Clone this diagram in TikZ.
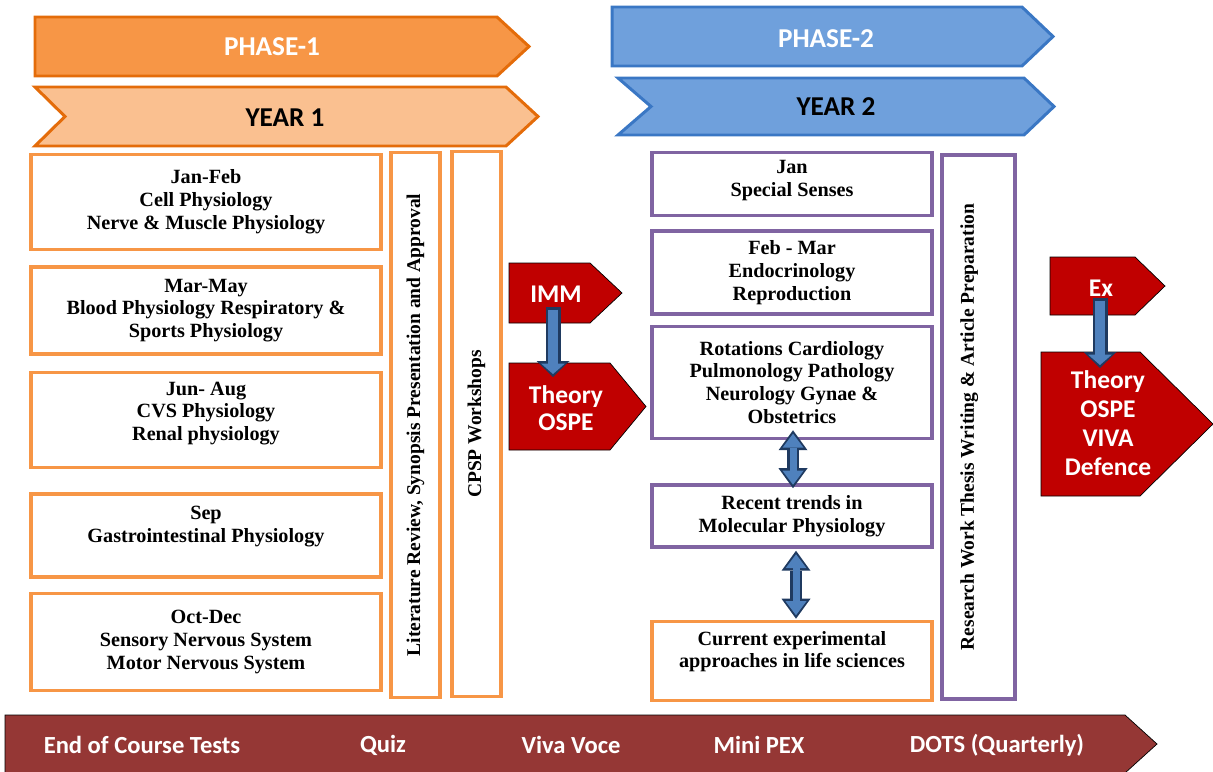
\documentclass[tikz,border=0pt]{standalone}
\usepackage{fontspec}
\setmainfont{Liberation Serif}
\newfontfamily\calibri{Carlito}
\usetikzlibrary{positioning,calc,arrows.meta}

\definecolor{phaseone}{HTML}{F79646}
\definecolor{phaseline}{HTML}{E46C0A}
\definecolor{yearone}{HTML}{FAC090}
\definecolor{phasetwo}{HTML}{6FA0DC}
\definecolor{phasetwoline}{HTML}{3A77C4}
\definecolor{boxorange}{HTML}{F79646}
\definecolor{boxpurple}{HTML}{8064A2}
\definecolor{examred}{HTML}{C00000}
\definecolor{barred}{HTML}{953735}
\definecolor{arrblue}{HTML}{4F81BD}
\definecolor{arrline}{HTML}{1F3A60}

% style, left, top, right, bottom, head length, notch depth
\newcommand\banner[7]{%
  \draw[#1] (#2,#3) -- ({#4-#6},#3) -- (#4,{(#3+#5)/2}) -- ({#4-#6},#5)
    -- (#2,#5) -- ({#2+#7},{(#3+#5)/2}) -- cycle;}

\tikzset{
  bannerline/.style={line width=1.7pt, line join=miter},
  headtext/.style={font=\calibri\bfseries\fontsize{15.5}{18}\selectfont},
  month/.style={draw=boxorange, line width=2pt, align=center, inner sep=2pt,
    minimum width=7cm, font=\bfseries\fontsize{11.5}{13}\selectfont},
  topic/.style={month, draw=boxpurple, minimum width=5.6cm},
  longbox/.style={month, rotate=90, minimum width=10.9cm, minimum height=0.98cm,
    font=\bfseries\fontsize{11.1}{13}\selectfont},
  examtext/.style={text=white, align=center,
    font=\calibri\bfseries\fontsize{14.5}{15.5}\selectfont},
  bartext/.style={text=white, font=\calibri\bfseries\fontsize{14}{16}\selectfont},
  fatout/.style={line width=0.3cm, draw=arrline,
    -{Triangle[length=0.32cm,width=0.66cm,line width=0pt]}},
  fatin/.style={line width=0.19cm, draw=arrblue, shorten <=0.05cm, shorten >=0.06cm,
    -{Triangle[length=0.21cm,width=0.48cm,line width=0pt]}},
  dblout/.style={line width=0.24cm, draw=arrline,
    {Triangle[length=0.4cm,width=0.58cm,line width=0pt]}-{Triangle[length=0.4cm,width=0.58cm,line width=0pt]}},
  dblin/.style={line width=0.14cm, draw=arrblue, shorten <=0.07cm, shorten >=0.07cm,
    {Triangle[length=0.28cm,width=0.42cm,line width=0pt]}-{Triangle[length=0.28cm,width=0.42cm,line width=0pt]}},
}

\begin{document}
\begin{tikzpicture}[x=0.02cm, y=-0.02cm]
\useasboundingbox (0,0) rectangle (1213,771);

% phase and year banners
\banner{bannerline, fill=phaseone, draw=phaseline}{35}{17}{529}{76}{32}{0}
\node[headtext, text=white] (phasehead1) at (272,47) {PHASE-1};
\banner{bannerline, fill=yearone, draw=phaseline}{35}{87}{538}{146}{32}{30}
\node[headtext] (yearhead1) at (285,118) {YEAR 1};
\banner{bannerline, fill=phasetwo, draw=phasetwoline}{612}{7}{1053}{66}{31}{0}
\node[headtext, text=white] (phasehead2) at (826,39) {PHASE-2};
\banner{bannerline, fill=phasetwo, draw=phasetwoline}{618}{78}{1054}{135}{30}{33}
\node[headtext] (yearhead2) at (836,107) {YEAR 2};

% year 1 modules
\node[month, minimum height=1.9cm] (janfeb) at (206,202)
  {Jan-Feb\\Cell Physiology\\Nerve \& Muscle Physiology};
\node[month, minimum height=1.74cm, below=0.28cm of janfeb] (marmay)
  {Mar-May\\Blood Physiology Respiratory \&\\Sports Physiology};
\node[month, minimum height=1.9cm, below=0.3cm of marmay] (junaug)
  {Jun- Aug\\CVS Physiology\\Renal physiology\\[-3pt]\mbox{}};
\node[month, minimum height=1.66cm, below=0.46cm of junaug] (sep)
  {Sep\\Gastrointestinal Physiology\\\mbox{}};
\node[month, minimum height=1.94cm, below=0.26cm of sep] (octdec)
  {Oct-Dec\\Sensory Nervous System\\Motor Nervous System};

\node[longbox] (litrev) at (415.5,425)
  {Literature Review, Synopsis Presentation and Approval};
\node[longbox] (cpsp) at (476.5,424) {CPSP Workshops};

% year 2 modules
\node[topic, minimum height=1.26cm] (jan) at (792,184)
  {Jan\\Special Senses\\[-7pt]\mbox{}};
\node[topic, minimum height=1.66cm, below=0.24cm of jan] (febmar)
  {Feb - Mar\\Endocrinology\\Reproduction};
\node[topic, minimum height=2.24cm, below=0.18cm of febmar] (rotation)
  {Rotations Cardiology\\Pulmonology Pathology\\Neurology Gynae \&\\Obstetrics};
\node[topic, minimum height=1.24cm, below=0.86cm of rotation] (recent)
  {Recent trends in\\Molecular Physiology};
\node[topic, draw=boxorange, minimum height=1.58cm, below=1.42cm of recent] (current)
  {Current experimental\\approaches in life sciences\\\mbox{}};

\node[longbox, draw=boxpurple, minimum width=10.88cm, minimum height=1.46cm] (research)
  at (978.5,427) {Research Work Thesis Writing \& Article Preparation\\\mbox{}};

% exams
\banner{fill=examred}{509}{263}{622}{323}{32}{0}
\node[examtext] (imm) at (556,294) {IMM};
\banner{fill=examred}{509}{363}{646}{450}{36}{0}
\node[examtext] (theory1) at (566,408) {Theory\\OSPE};
\banner{fill=examred}{1050}{257}{1165}{315}{30}{0}
\node[examtext] (ex) at (1101,288) {Ex};
\banner{fill=examred}{1041}{352}{1213}{496}{73}{0}
\node[examtext, font=\calibri\bfseries\fontsize{14.5}{16.4}\selectfont] (theory2)
  at (1108,423) {Theory\\OSPE\\VIVA\\Defence};

\coordinate (immfoot) at ($(imm.center)+(-3,13)$);
\coordinate (theory1top) at ($(theory1.center)+(-13,-31)$);
\coordinate (exfoot) at ($(ex.center)+(-1,10)$);
\coordinate (theory2top) at ($(theory2.center)+(-8,-55)$);
\draw[fatout] (immfoot) -- (theory1top);
\draw[fatin] (immfoot) -- (theory1top);
\draw[fatout] (exfoot) -- (theory2top);
\draw[fatin] (exfoot) -- (theory2top);

\coordinate (rotfoot) at ($(rotation.south)+(1,-10)$);
\coordinate (recenttop) at ($(recent.north)+(1,5)$);
\coordinate (recentfoot) at ($(recent.south)+(4,2)$);
\coordinate (currenttop) at ($(current.north)+(4,-1)$);
\draw[dblout] (rotfoot) -- (recenttop);
\draw[dblin] (rotfoot) -- (recenttop);
\draw[dblout] (recentfoot) -- (currenttop);
\draw[dblin] (recentfoot) -- (currenttop);

% assessment bar
\banner{fill=barred}{5}{715}{1157}{773}{32}{0}
\node[bartext] (endtests) at (142,745) {End of Course Tests};
\node[bartext] (quiz) at (383,745) {Quiz};
\node[bartext] (vivavoce) at (571,745) {Viva Voce};
\node[bartext] (minipex) at (759,745) {Mini PEX};
\node[bartext] (dots) at (997,745) {DOTS (Quarterly)};
\end{tikzpicture}
\end{document}
